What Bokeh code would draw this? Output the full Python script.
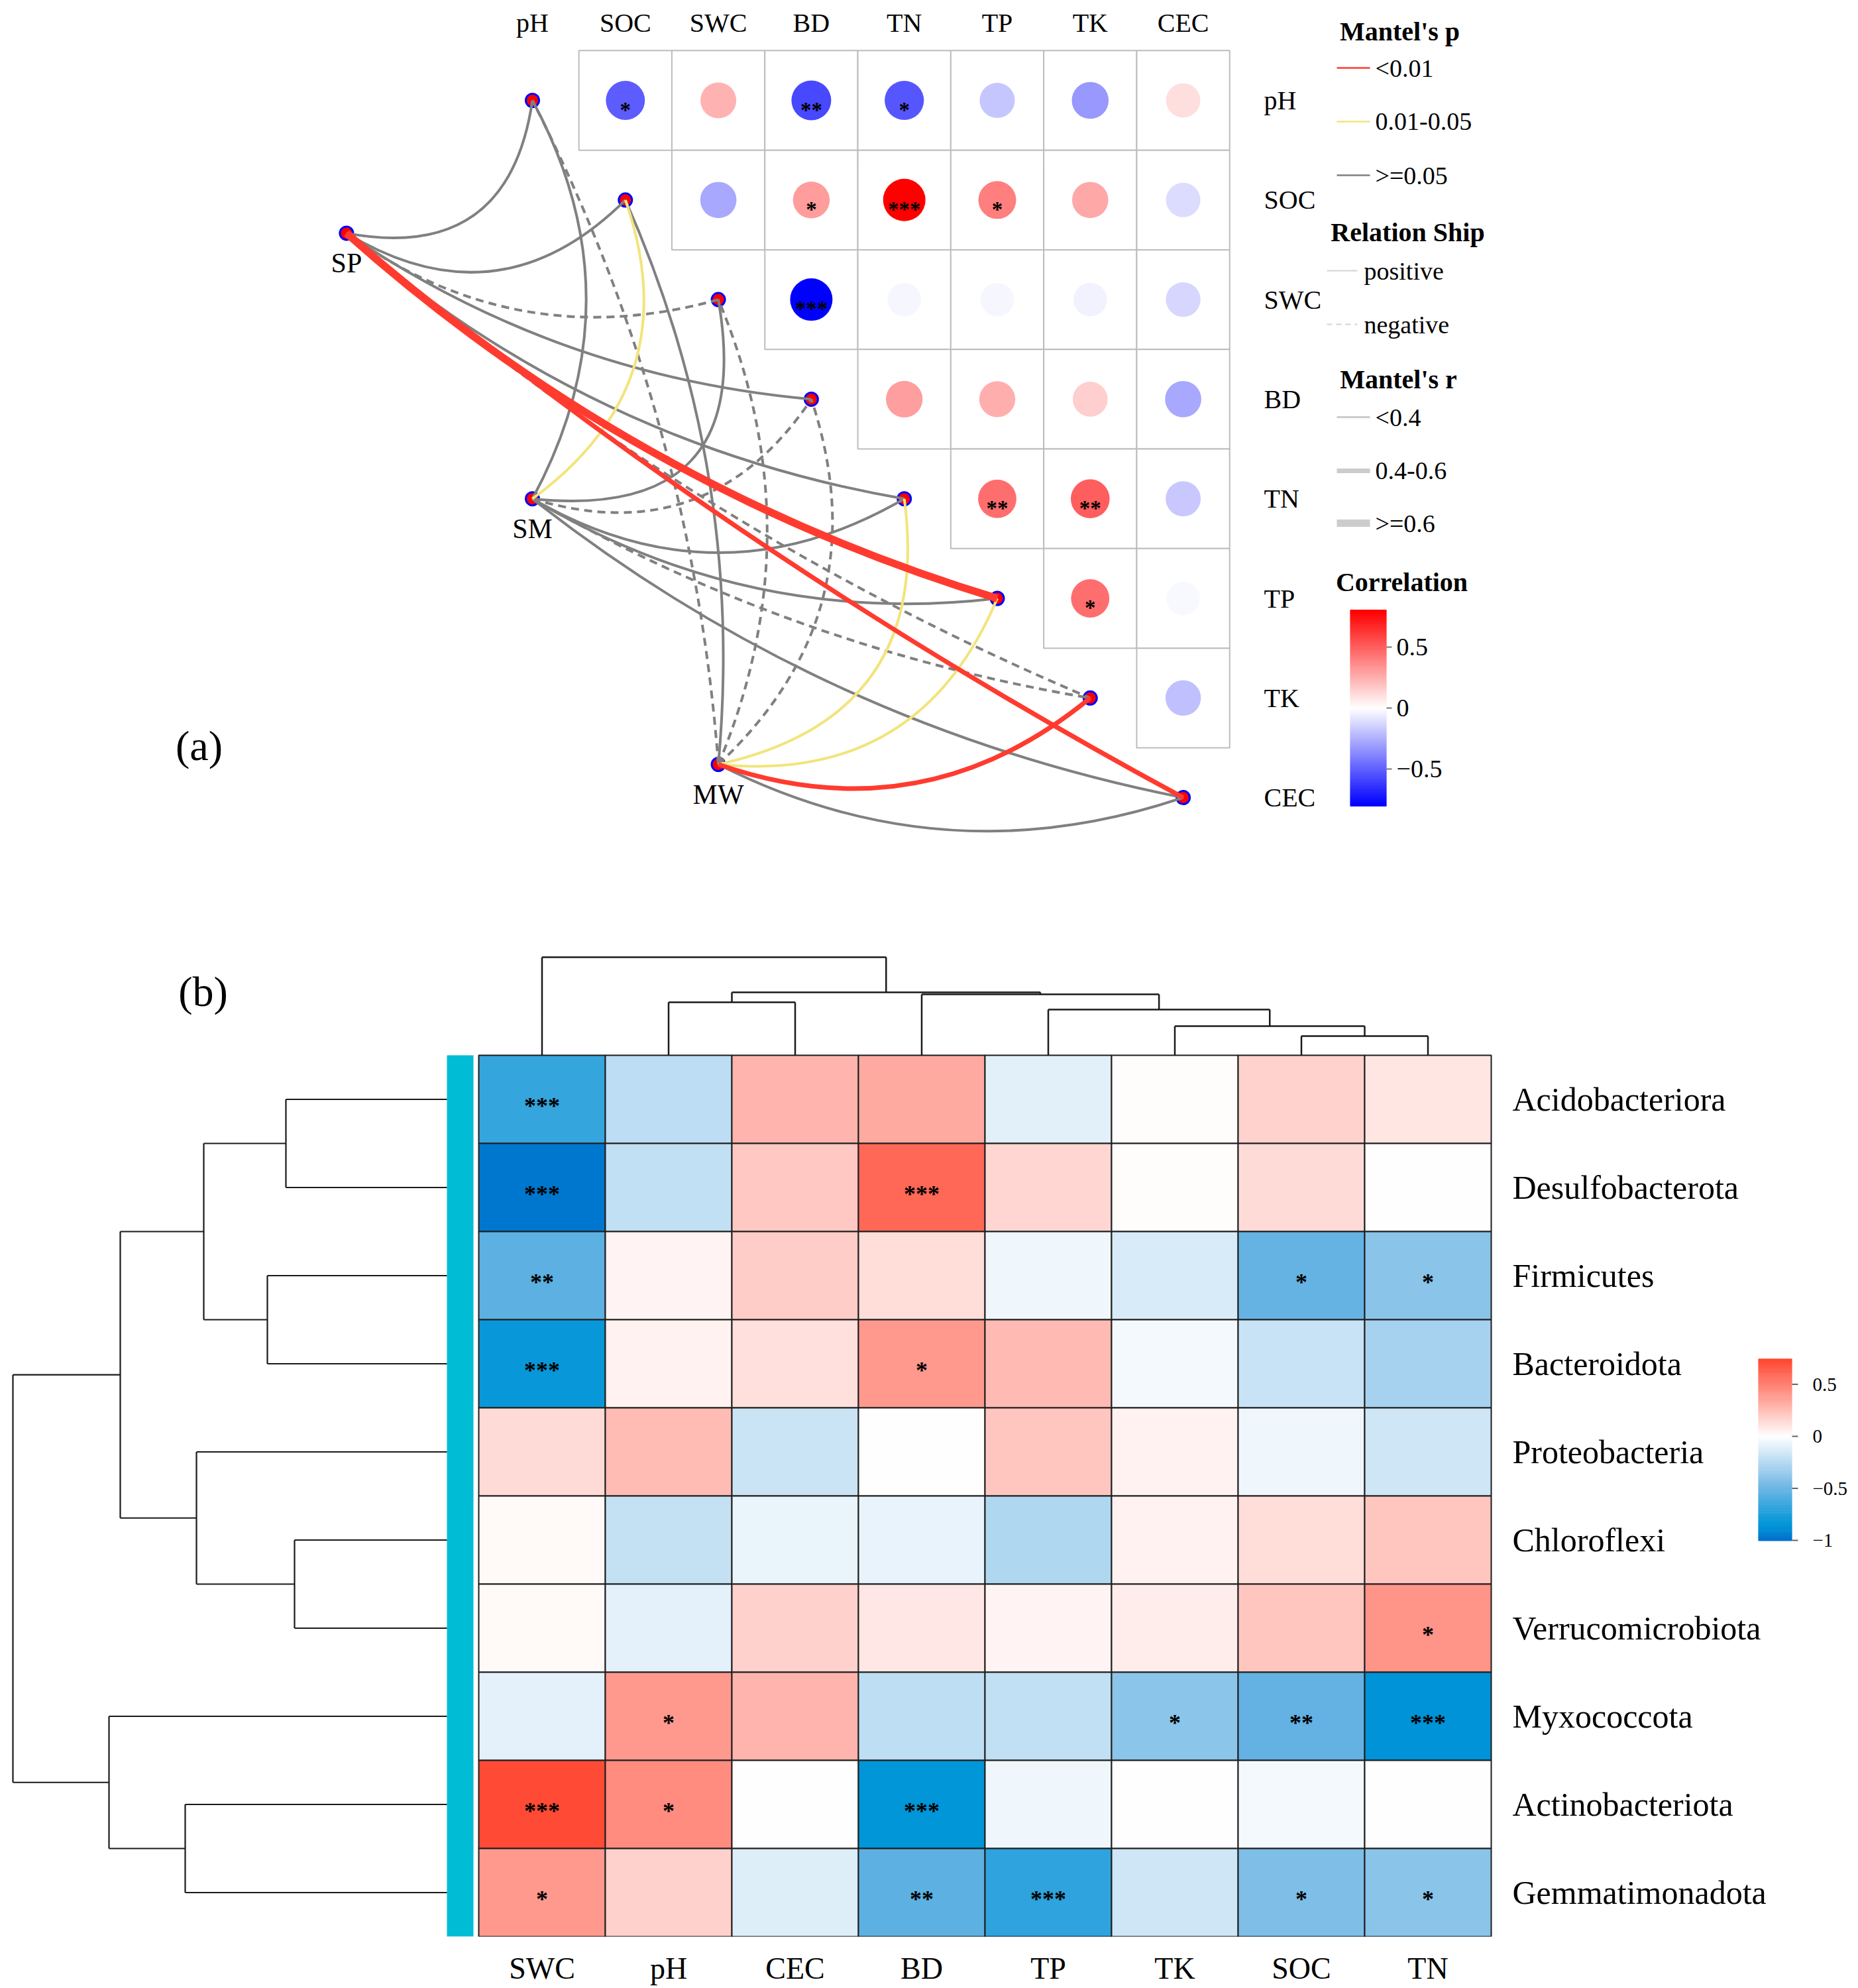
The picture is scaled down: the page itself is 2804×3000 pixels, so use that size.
import math
import numpy as np
from bokeh.plotting import figure
from bokeh.models import Range1d, ColumnDataSource, FixedTicker
from bokeh.transform import linear_cmap
from bokeh.layouts import column
from bokeh.embed import file_html
from bokeh.resources import INLINE
from bokeh.core.properties import value

FONT = "Liberation Serif"
W = 2804

# ============================ DATA: panel (a) ============================
env_vars = ["pH", "SOC", "SWC", "BD", "TN", "TP", "TK", "CEC"]
# upper-triangle correlations: row i vs env_vars[i+1:]
env_corr = [
    [-0.51, 0.24, -0.57, -0.53, -0.18, -0.32, 0.10],
    [-0.27, 0.31, 0.80, 0.40, 0.27, -0.11],
    [-0.80, -0.03, -0.03, -0.04, -0.13],
    [0.30, 0.25, 0.15, -0.27],
    [0.45, 0.50, -0.17],
    [0.45, -0.02],
    [-0.20],
]
env_sig = [
    ["*", "", "**", "*", "", "", ""],
    ["", "*", "***", "*", "", ""],
    ["***", "", "", "", ""],
    ["", "", "", ""],
    ["**", "**", ""],
    ["*", ""],
    [""],
]
species = ["SP", "SM", "MW"]
p_levels = ["<0.01", "0.01-0.05", ">=0.05"]
sign_levels = ["positive", "negative"]
r_levels = ["<0.4", "0.4-0.6", ">=0.6"]

sp_mantel_p = [">=0.05", ">=0.05", ">=0.05", ">=0.05", ">=0.05", "<0.01", ">=0.05", "<0.01"]
sm_mantel_p = [">=0.05", "0.01-0.05", ">=0.05", ">=0.05", ">=0.05", ">=0.05", ">=0.05", ">=0.05"]
mw_mantel_p = [">=0.05", ">=0.05", ">=0.05", ">=0.05", "0.01-0.05", "0.01-0.05", "<0.01", ">=0.05"]

sp_sign = ["positive", "positive", "negative", "positive", "positive", "positive", "negative", "positive"]
sm_sign = ["positive", "positive", "positive", "negative", "positive", "positive", "negative", "positive"]
mw_sign = ["negative", "positive", "negative", "negative", "positive", "positive", "positive", "positive"]

sp_mantel_r = ["<0.4", "<0.4", "<0.4", "<0.4", "<0.4", ">=0.6", "<0.4", "0.4-0.6"]
sm_mantel_r = ["<0.4", "<0.4", "<0.4", "<0.4", "<0.4", "<0.4", "<0.4", "<0.4"]
mw_mantel_r = ["<0.4", "<0.4", "<0.4", "<0.4", "<0.4", "<0.4", "0.4-0.6", "<0.4"]

corr_ticks_a = [0.5, 0.0, -0.5]
corr_tick_labels_a = ["0.5", "0", "\u22120.5"]

# ============================ DATA: panel (b) ============================
phyla = ["Acidobacteriora", "Desulfobacterota", "Firmicutes", "Bacteroidota",
         "Proteobacteria", "Chloroflexi", "Verrucomicrobiota", "Myxococcota",
         "Actinobacteriota", "Gemmatimonadota"]
soil_vars = ["SWC", "pH", "CEC", "BD", "TP", "TK", "SOC", "TN"]

acidobacteriora = [-0.68, -0.23, 0.29, 0.33, -0.10, 0.01, 0.17, 0.10]
desulfobacterota = [-0.97, -0.21, 0.21, 0.60, 0.16, 0.01, 0.14, 0.00]
firmicutes = [-0.55, 0.04, 0.19, 0.13, -0.05, -0.13, -0.52, -0.40]
bacteroidota = [-0.82, 0.05, 0.12, 0.40, 0.27, -0.04, -0.19, -0.30]
proteobacteria = [0.14, 0.26, -0.18, 0.00, 0.22, 0.05, -0.05, -0.17]
chloroflexi = [0.02, -0.20, -0.07, -0.08, -0.27, 0.05, 0.13, 0.22]
verrucomicrobiota = [0.02, -0.09, 0.18, 0.09, 0.04, 0.07, 0.22, 0.42]
myxococcota = [-0.09, 0.40, 0.29, -0.22, -0.21, -0.39, -0.53, -0.86]
actinobacteriota = [0.72, 0.45, 0.00, -0.85, -0.05, 0.00, -0.04, 0.00]
gemmatimonadota = [0.40, 0.18, -0.11, -0.55, -0.70, -0.17, -0.44, -0.40]

acidobacteriora_sig = ["***", "", "", "", "", "", "", ""]
desulfobacterota_sig = ["***", "", "", "***", "", "", "", ""]
firmicutes_sig = ["**", "", "", "", "", "", "*", "*"]
bacteroidota_sig = ["***", "", "", "*", "", "", "", ""]
proteobacteria_sig = ["", "", "", "", "", "", "", ""]
chloroflexi_sig = ["", "", "", "", "", "", "", ""]
verrucomicrobiota_sig = ["", "", "", "", "", "", "", "*"]
myxococcota_sig = ["", "*", "", "", "", "*", "**", "***"]
actinobacteriota_sig = ["***", "*", "", "***", "", "", "", ""]
gemmatimonadota_sig = ["*", "", "", "**", "***", "", "*", "*"]

# hierarchical clustering merges (a, b, height); ids >= n are earlier merges
col_merges = [(6, 7, 0.29), (5, 8, 0.44), (4, 9, 0.69), (1, 2, 0.80),
              (3, 10, 0.92), (11, 12, 0.95), (0, 13, 1.48)]
row_merges = [(0, 1, 2.43), (2, 3, 2.71), (10, 11, 3.67), (5, 6, 2.30),
              (4, 13, 3.78), (12, 14, 4.93), (8, 9, 3.95), (7, 16, 5.10),
              (15, 17, 6.55)]

corr_ticks_b = [0.5, 0.0, -0.5, -1.0]
corr_tick_labels_b = ["0.5", "0", "\u22120.5", "\u22121"]

# ============================ STYLE ============================
RED, YELLOW, GREY = "#FF3B2F", "#F2E47C", "#808080"
p_color = {"<0.01": RED, "0.01-0.05": YELLOW, ">=0.05": GREY}
r_width = {"<0.4": 4, "0.4-0.6": 7, ">=0.6": 11.5}
DASH = "12 8"
# bend of each link (control offset / chord length), species x env
sp_curv = [0.52, 0.39, 0.24, 0.13, 0.14, 0.11, 0.08, 0.05]
sm_curv = [0.27, 0.37, 0.66, 0.37, 0.29, 0.17, 0.09, 0.12]
mw_curv = [0.10, 0.13, 0.21, 0.32, 0.46, 0.37, 0.28, 0.21]


def ramp(stops, n=256):
    out = []
    for k in range(n):
        t = k / (n - 1)
        c = stops[-1][1]
        for (p0, c0), (p1, c1) in zip(stops[:-1], stops[1:]):
            if p0 <= t <= p1:
                f = (t - p0) / (p1 - p0) if p1 > p0 else 0.0
                c = tuple(int(round(a + (b - a) * f)) for a, b in zip(c0, c1))
                break
        out.append("#%02x%02x%02x" % c)
    return out


pal_a = ramp([(0.0, (0, 0, 255)), (0.5, (255, 255, 255)), (1.0, (255, 0, 0))])
A_LOW, A_HIGH = -0.8, 0.8
B_LOW, B_HIGH = -1.0, 0.74
b_stops_v = [(-1.0, (0, 112, 204)), (-0.85, (0, 150, 216)), (-0.5, (108, 181, 228)),
             (0.0, (255, 255, 255)), (0.37, (255, 160, 150)), (0.74, (255, 72, 50))]
pal_b = ramp([((v - B_LOW) / (B_HIGH - B_LOW), c) for v, c in b_stops_v])

# ============================ PANEL (a) ============================
XU, YU = 140.3, 150.3
AX0, AY0 = 803.0, 151.0
A_H = 1332


def ax(px):
    return (px - AX0) / XU


def ay(py):
    return (py - AY0) / YU


def a_px(x, y):
    return AX0 + XU * x, AY0 + YU * y


pa = figure(width=W, height=A_H, x_range=Range1d(ax(0), ax(W)),
            y_range=Range1d(ay(A_H), ay(0)), output_backend="svg",
            toolbar_location=None, x_axis_location=None, y_axis_location=None,
            min_border=0, min_border_left=0, min_border_right=0,
            min_border_top=0, min_border_bottom=0)
pa.grid.visible = False
pa.outline_line_color = None
pa.background_fill_color = "white"

# correlation cells
cx, cy, cr, cs, csize = [], [], [], [], []
for i, row in enumerate(env_corr):
    for k, r in enumerate(row):
        j = i + 1 + k
        cx.append(j)
        cy.append(i)
        cr.append(r)
        cs.append(env_sig[i][k])
        csize.append(50 + 14 * abs(r) / 0.8)
cell_src = ColumnDataSource(dict(x=cx, y=cy, r=cr, sig=cs, size=csize))
pa.rect(x="x", y="y", width=1, height=1, fill_color="white", line_color="#BDBDBD",
        line_width=2, source=cell_src)
pa.scatter(x="x", y="y", size="size", marker="circle",
           fill_color=linear_cmap("r", pal_a, A_LOW, A_HIGH), line_color=None, source=cell_src)
pa.text(x="x", y="y", text="sig", text_align="center", text_baseline="middle",
        text_font=value(FONT), text_font_size=value("33px"), text_font_style="bold",
        text_color="black", y_offset=14, source=cell_src)

# node positions: env nodes on diagonal, species along a line to the left
n_env = len(env_vars)
env_x = list(range(n_env))
env_y = list(range(n_env))
sp_pos = [(-2.0 + 2.0 * k, 4.0 / 3.0 + 8.0 / 3.0 * k) for k in range(len(species))]

pa.scatter(x=[p[0] for p in sp_pos] + env_x, y=[p[1] for p in sp_pos] + env_y,
           size=20, marker="circle", fill_color="#FF0000", line_color="#0000FF", line_width=3)

# links
links = []
for k, (pvals, signs, rvals, curv) in enumerate([
        (sp_mantel_p, sp_sign, sp_mantel_r, sp_curv),
        (sm_mantel_p, sm_sign, sm_mantel_r, sm_curv),
        (mw_mantel_p, mw_sign, mw_mantel_r, mw_curv)]):
    sx, sy = a_px(*sp_pos[k])
    for i in range(n_env):
        ex, ey = a_px(env_x[i], env_y[i])
        dx, dy = ex - sx, ey - sy
        L = math.hypot(dx, dy)
        nx, ny = -dy / L, dx / L
        mx, my = (sx + ex) / 2, (sy + ey) / 2
        cpx, cpy = mx + curv[i] * L * nx, my + curv[i] * L * ny
        links.append(dict(x0=sp_pos[k][0], y0=sp_pos[k][1], x1=env_x[i], y1=env_y[i],
                          cx=ax(cpx), cy=ay(cpy), p=pvals[i], sign=signs[i],
                          color=p_color[pvals[i]], width=r_width[rvals[i]]))

for plev in [">=0.05", "0.01-0.05", "<0.01"]:
    for sgn in ["negative", "positive"]:
        rows = [l for l in links if l["p"] == plev and l["sign"] == sgn]
        if not rows:
            continue
        src = ColumnDataSource({key: [r[key] for r in rows] for key in
                                ["x0", "y0", "x1", "y1", "cx", "cy", "color", "width"]})
        pa.quadratic(x0="x0", y0="y0", x1="x1", y1="y1", cx="cx", cy="cy",
                     line_color="color", line_width="width",
                     line_dash=(DASH if sgn == "negative" else "solid"), source=src)

# labels
pa.text(x=env_x, y=[ay(34)] * n_env, text=env_vars, text_align="center",
        text_baseline="middle", text_font=value(FONT), text_font_size=value("40px"),
        text_color="black")
pa.text(x=[ax(1907)] * n_env, y=env_y, text=env_vars, text_align="left",
        text_baseline="middle", text_font=value(FONT), text_font_size=value("40px"),
        text_color="black")
pa.text(x=[p[0] for p in sp_pos], y=[p[1] + 45 / YU for p in sp_pos], text=species,
        text_align="center", text_baseline="middle", text_font=value(FONT),
        text_font_size=value("42px"), text_color="black")
pa.text(x=[ax(300)], y=[ay(1125)], text=["(a)"], text_align="center", text_baseline="middle",
        text_font=value(FONT), text_font_size=value("64px"), text_color="black")

# legend (a)
def a_title(txt, px, py):
    pa.text(x=[ax(px)], y=[ay(py)], text=[txt], text_align="center", text_baseline="middle",
            text_font=value(FONT), text_font_size=value("40px"), text_font_style="bold",
            text_color="black")


def a_label(txt, px, py):
    pa.text(x=[ax(px)], y=[ay(py)], text=[txt], text_align="left", text_baseline="middle",
            text_font=value(FONT), text_font_size=value("38px"), text_color="black")


a_title("Mantel's p", 2112, 47)
for lev, py in zip(p_levels, [102, 183, 264]):
    pa.segment(x0=[ax(2017)], y0=[ay(py)], x1=[ax(2067)], y1=[ay(py)],
               line_color=p_color[lev], line_width=2.5)
    a_label(lev, 2075, py)

a_title("Relation Ship", 2124, 350)
for lev, py in zip(sign_levels, [408, 489]):
    pa.segment(x0=[ax(2002)], y0=[ay(py)], x1=[ax(2048)], y1=[ay(py)],
               line_color="#D3D3D3", line_width=2,
               line_dash=("8 6" if lev == "negative" else "solid"))
    a_label(lev, 2058, py)

a_title("Mantel's r", 2110, 572)
for lev, py, w in zip(r_levels, [629, 710, 789], [3, 7, 11]):
    pa.segment(x0=[ax(2017)], y0=[ay(py)], x1=[ax(2067)], y1=[ay(py)],
               line_color="#CCCCCC", line_width=w)
    a_label(lev, 2075, py)

a_title("Correlation", 2115, 878)
# colour bar (a)
CB_A_MID, CB_A_SCALE = 1068.0, 184.0
nb = 160
vals = np.linspace(A_LOW, A_HIGH, nb)
step = (A_HIGH - A_LOW) / (nb - 1)
cb_src = ColumnDataSource(dict(x=[ax((2037 + 2092) / 2)] * nb,
                               y=[ay(CB_A_MID - CB_A_SCALE * v) for v in vals],
                               v=list(vals)))
pa.rect(x="x", y="y", width=(2092 - 2037) / XU, height=step * CB_A_SCALE * 1.4 / YU,
        fill_color=linear_cmap("v", pal_a, A_LOW, A_HIGH), line_color=None, source=cb_src)
pa.segment(x0=[ax(2092)] * 3, y0=[ay(CB_A_MID - CB_A_SCALE * t) for t in corr_ticks_a],
           x1=[ax(2100)] * 3, y1=[ay(CB_A_MID - CB_A_SCALE * t) for t in corr_ticks_a],
           line_color="#777777", line_width=2)
pa.text(x=[ax(2107)] * 3, y=[ay(CB_A_MID - CB_A_SCALE * t) for t in corr_ticks_a],
        text=corr_tick_labels_a, text_align="left", text_baseline="middle",
        text_font=value(FONT), text_font_size=value("38px"), text_color="black")

# ============================ PANEL (b) ============================
CW, RH = 191.0, 133.0
BX0, BY0 = 722.0, 1592.0
B_BOTTOM = 2922.0
B_BORDER = 78


def bx(px):
    return (px - BX0) / CW - 0.5


def by(py):
    return (py - BY0) / RH - 0.5


pb = figure(width=W, height=int(B_BOTTOM - A_H) + B_BORDER,
            x_range=Range1d(bx(0), bx(W)),
            y_range=Range1d(by(B_BOTTOM), by(A_H)), output_backend="svg",
            toolbar_location=None, x_axis_location="below", y_axis_location=None,
            min_border=0, min_border_left=0, min_border_right=0,
            min_border_top=0, min_border_bottom=B_BORDER)
pb.grid.visible = False
pb.outline_line_color = None

heat_rows = [acidobacteriora, desulfobacterota, firmicutes, bacteroidota, proteobacteria,
             chloroflexi, verrucomicrobiota, myxococcota, actinobacteriota, gemmatimonadota]
heat_sigs = [acidobacteriora_sig, desulfobacterota_sig, firmicutes_sig, bacteroidota_sig,
             proteobacteria_sig, chloroflexi_sig, verrucomicrobiota_sig, myxococcota_sig,
             actinobacteriota_sig, gemmatimonadota_sig]
hx, hy, hv, hs = [], [], [], []
for j, (vals_r, sig_r) in enumerate(zip(heat_rows, heat_sigs)):
    for i, v in enumerate(vals_r):
        hx.append(i)
        hy.append(j)
        hv.append(v)
        hs.append(sig_r[i])
heat_src = ColumnDataSource(dict(x=hx, y=hy, v=hv, sig=hs))
pb.rect(x="x", y="y", width=1, height=1, fill_color=linear_cmap("v", pal_b, B_LOW, B_HIGH),
        line_color="#1E1E1E", line_width=2, source=heat_src)
pb.text(x="x", y="y", text="sig", text_align="center", text_baseline="middle",
        text_font=value(FONT), text_font_size=value("36px"), text_font_style="bold",
        text_color="black", y_offset=10, source=heat_src)

# row labels
pb.text(x=[bx(2282)] * len(phyla), y=list(range(len(phyla))), text=phyla,
        text_align="left", text_baseline="middle", text_font=value(FONT),
        text_font_size=value("50px"), text_color="black")

# column axis
pb.xaxis.ticker = FixedTicker(ticks=list(range(len(soil_vars))))
pb.xaxis.major_label_overrides = {i: s for i, s in enumerate(soil_vars)}
pb.xaxis.axis_line_color = None
pb.xaxis.major_tick_line_color = None
pb.xaxis.minor_tick_line_color = None
pb.xaxis.major_tick_in = 0
pb.xaxis.major_tick_out = 0
pb.xaxis.minor_tick_in = 0
pb.xaxis.minor_tick_out = 0
pb.xaxis.major_label_standoff = 22
pb.xaxis.major_label_text_font = FONT
pb.xaxis.major_label_text_font_size = "46px"
pb.xaxis.major_label_text_color = "black"

# cyan annotation bar
pb.rect(x=[bx((674 + 714) / 2)], y=[(len(phyla) - 1) / 2], width=(714 - 674) / CW,
        height=len(phyla), fill_color="#00BCD4", line_color=None)


def dendro_segments(merges, n):
    pos = {i: float(i) for i in range(n)}
    hgt = {i: 0.0 for i in range(n)}
    segs = []
    for k, (a, b, h) in enumerate(merges):
        segs.append((pos[a], hgt[a], pos[a], h))
        segs.append((pos[b], hgt[b], pos[b], h))
        segs.append((pos[a], h, pos[b], h))
        pos[n + k] = (pos[a] + pos[b]) / 2
        hgt[n + k] = h
    return segs


HSCALE = 100.0  # px per height unit
col_segs = dendro_segments(col_merges, len(soil_vars))
pb.segment(x0=[s[0] for s in col_segs], y0=[by(BY0 - HSCALE * s[1]) for s in col_segs],
           x1=[s[2] for s in col_segs], y1=[by(BY0 - HSCALE * s[3]) for s in col_segs],
           line_color="#1A1A1A", line_width=2.5)
LEAF_X = 674.0
row_segs = dendro_segments(row_merges, len(phyla))
pb.segment(x0=[bx(LEAF_X - HSCALE * s[1]) for s in row_segs], y0=[s[0] for s in row_segs],
           x1=[bx(LEAF_X - HSCALE * s[3]) for s in row_segs], y1=[s[2] for s in row_segs],
           line_color="#1A1A1A", line_width=2.2)

pb.text(x=[bx(306)], y=[by(1496)], text=["(b)"], text_align="center", text_baseline="middle",
        text_font=value(FONT), text_font_size=value("64px"), text_color="black")

# colour bar (b)
CB_B_MID, CB_B_SCALE = 2167.0, 157.0
nbb = 180
valsb = np.linspace(B_LOW, B_HIGH, nbb)
stepb = (B_HIGH - B_LOW) / (nbb - 1)
cbb_src = ColumnDataSource(dict(x=[bx((2653 + 2704) / 2)] * nbb,
                                y=[by(CB_B_MID - CB_B_SCALE * v) for v in valsb],
                                v=list(valsb)))
pb.rect(x="x", y="y", width=(2704 - 2653) / CW, height=stepb * CB_B_SCALE * 1.4 / RH,
        fill_color=linear_cmap("v", pal_b, B_LOW, B_HIGH), line_color=None, source=cbb_src)
pb.segment(x0=[bx(2704)] * 4, y0=[by(CB_B_MID - CB_B_SCALE * t) for t in corr_ticks_b],
           x1=[bx(2713)] * 4, y1=[by(CB_B_MID - CB_B_SCALE * t) for t in corr_ticks_b],
           line_color="#666666", line_width=2)
pb.text(x=[bx(2735)] * 4, y=[by(CB_B_MID - CB_B_SCALE * t) for t in corr_ticks_b],
        text=corr_tick_labels_b, text_align="left", text_baseline="middle",
        text_font=value(FONT), text_font_size=value("29px"), text_color="black")

layout = column(pa, pb, spacing=0)
open("out.html", "w").write(file_html(layout, INLINE, title="Mantel network and heatmap"))
